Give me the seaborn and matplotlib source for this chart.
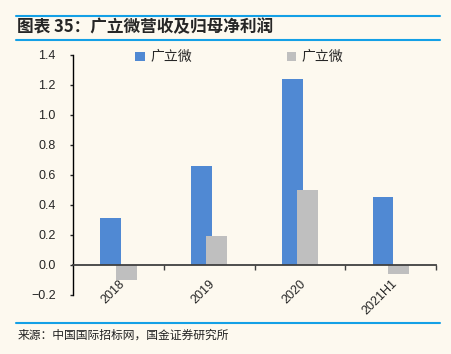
import matplotlib
matplotlib.use("Agg")
import matplotlib.pyplot as plt
from matplotlib.lines import Line2D
from matplotlib.patches import Patch
import pandas as pd
import seaborn as sns

# 数据
years = ["2018", "2019", "2020", "2021H1"]
revenue = [0.31, 0.66, 1.24, 0.45]        # 营收（亿元）
net_profit = [-0.10, 0.19, 0.50, -0.06]   # 归母净利润（亿元）
legend_labels = ["广立微", "广立微"]
y_ticks = [-0.2, 0.0, 0.2, 0.4, 0.6, 0.8, 1.0, 1.2, 1.4]

title_text = "图表 35：广立微营收及归母净利润"
source_text = "来源：中国国际招标网，国金证券研究所"

bg_color = "#FDF9EF"
blue = "#5089D3"
gray = "#BFBFBF"
line_blue = "#14A0E6"

df = pd.DataFrame({
    "年份": years * 2,
    "数值": revenue + net_profit,
    "系列": ["营收"] * len(years) + ["归母净利润"] * len(years),
})

sns.set_style("ticks")
plt.rcParams["font.family"] = ["Liberation Sans", "Noto Sans CJK SC", "DejaVu Sans"]
cjk = ["Noto Sans CJK SC", "DejaVu Sans"]

fig = plt.figure(figsize=(4.51, 3.54), dpi=100, facecolor=bg_color)
ax = fig.add_axes([0.162, 0.1667, 0.805, 0.678])
ax.set_facecolor(bg_color)

sns.barplot(data=df, x="年份", y="数值", hue="系列", palette=[blue, gray],
            width=0.34, saturation=1, legend=False, ax=ax)

# 柱子略宽，两组之间有少量重叠
for p in ax.patches:
    c = p.get_x() + p.get_width() / 2
    p.set_width(0.23)
    p.set_x(c - 0.115)
    p.set_linewidth(0)

ax.set_xlim(-0.5, 3.5)
ax.set_ylim(-0.2, 1.4)
ax.set_yticks(y_ticks)
ax.set_yticklabels([f"{v:.1f}".replace("-", "\u2212") for v in y_ticks])
ax.set_xlabel("")
ax.set_ylabel("")

# 坐标轴样式
ax.spines["top"].set_visible(False)
ax.spines["right"].set_visible(False)
ax.spines["bottom"].set_position(("data", 0))
ax.spines["bottom"].set_color("#404040")
ax.spines["bottom"].set_linewidth(1.3)
ax.spines["left"].set_color("black")
ax.spines["left"].set_linewidth(1.0)

ax.set_xticks([0.5, 1.5, 2.5, 3.5], minor=True)
ax.tick_params(axis="x", which="major", length=0, pad=9, labelsize=9)
ax.tick_params(axis="x", which="minor", length=3.5, width=1, color="#404040")
ax.tick_params(axis="y", length=2.5, width=1, pad=10, labelsize=9)
for lbl in ax.get_xticklabels():
    lbl.set_rotation(45)
    lbl.set_ha("right")
    lbl.set_rotation_mode("anchor")

# 图例
handles = [Patch(facecolor=blue, edgecolor="none"), Patch(facecolor=gray, edgecolor="none")]
fig.legend(handles, legend_labels, loc="center left", bbox_to_anchor=(0.272, 0.838),
           ncol=2, frameon=False, handlelength=0.7, handleheight=0.7,
           handletextpad=0.4, columnspacing=6.8,
           prop={"family": cjk, "size": 10})

# 标题与分隔线
for y_px in (16, 40, 323):
    fig.add_artist(Line2D([0.035, 0.976], [1 - y_px / 354] * 2, color=line_blue, lw=1.5,
                          transform=fig.transFigure))
fig.text(0.038, 1 - 27.5 / 354, title_text, fontsize=12, fontweight="bold",
         fontstyle="italic", va="center", ha="left", family=cjk)
fig.text(0.038, 1 - 335 / 354, source_text, fontsize=8.5, va="center", ha="left",
         family=cjk, color="#222222")

fig.savefig("out.png", dpi=100, facecolor=bg_color)
